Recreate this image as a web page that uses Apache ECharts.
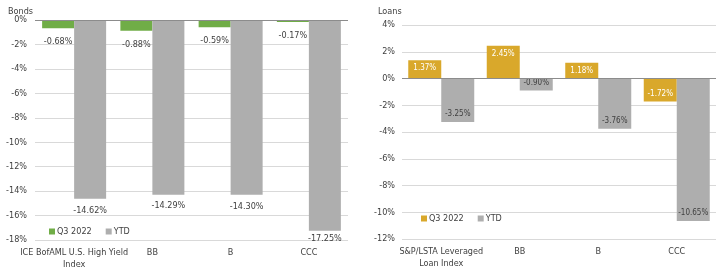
<!DOCTYPE html>
<html>
<head>
<meta charset="utf-8">
<script src="https://cdn.jsdelivr.net/npm/echarts@6/dist/echarts.min.js"></script>
<style>
  html, body { margin: 0; padding: 0; background: #fff; }
  #chart { width: 724px; height: 276px; }
</style>
</head>
<body>
<div id="chart"></div>
<script>
// bonds panel
const bondCategories = ['ICE BofAML U.S. High Yield\nIndex', 'BB', 'B', 'CCC'];
const bondQ3 = [-0.68, -0.88, -0.59, -0.17];
const bondYtd = [-14.62, -14.29, -14.30, -17.25];

// loans panel
const loanCategories = ['S&P/LSTA Leveraged\nLoan Index', 'BB', 'B', 'CCC'];
const loanQ3 = [1.37, 2.45, 1.18, -1.72];
const loanYtd = [-3.25, -0.90, -3.76, -10.65];

const FONT = "'Liberation Sans Narrow', 'DejaVu Sans Condensed', 'Arial Narrow', 'Liberation Sans', sans-serif";
const TEXT = '#404040';
const GREEN = '#70ad47';
const GOLD = '#d9a82b';
const GREY = '#aeaeae';

const legendNames = { bq3: 'Q3 2022', bytd: 'YTD', lq3: 'Q3 2022', lytd: 'YTD' };

function pct(v) {
  return v.toFixed(2) + '%';
}

// inside-end labels: top for positive bars, bottom for negative ones
function insideEnd(values) {
  return values.map((v) => ({
    value: v,
    label: { position: v >= 0 ? 'insideTop' : 'insideBottom' },
  }));
}

const zeroLine = {
  silent: true,
  symbol: 'none',
  label: { show: false },
  lineStyle: { color: '#8c8c8c', type: 'solid', width: 1 },
  data: [{ yAxis: 0 }],
};

function valueAxis(gridIndex, min, max) {
  return {
    type: 'value',
    gridIndex,
    min,
    max,
    interval: 2,
    axisLine: { show: false },
    axisTick: { show: false },
    axisLabel: {
      color: TEXT,
      fontFamily: FONT,
      fontSize: 9,
      margin: gridIndex === 0 ? 8 : 7,
      formatter: (v) => v + '%',
    },
    splitLine: { lineStyle: { color: '#d9d9d9', width: 1 } },
  };
}

function categoryAxis(gridIndex, data) {
  return {
    type: 'category',
    gridIndex,
    data,
    axisLine: { show: false, onZero: false },
    axisTick: { show: false },
    axisLabel: {
      color: TEXT,
      fontFamily: FONT,
      fontSize: 9,
      margin: 7,
      lineHeight: 12,
      interval: 0,
    },
  };
}

// keep the bonds labels from running past the bottom of the plot
function clampBottom(params) {
  const r = params.labelRect;
  const limit = 243;
  return r.y + r.height > limit ? { dy: limit - (r.y + r.height) } : {};
}

const chart = echarts.init(document.getElementById('chart'), null, { renderer: 'canvas' });

chart.setOption({
  animation: false,
  backgroundColor: '#fff',
  textStyle: { fontFamily: FONT },
  title: [
    { text: 'Bonds', left: 3, top: 2, textStyle: { fontSize: 9, fontWeight: 'normal', color: TEXT, fontFamily: FONT } },
    { text: 'Loans', left: 373, top: 2, textStyle: { fontSize: 9, fontWeight: 'normal', color: TEXT, fontFamily: FONT } },
  ],
  legend: [
    {
      data: ['bq3', 'bytd'],
      left: 44,
      top: 222,
      itemWidth: 6,
      itemHeight: 6,
      itemGap: 14,
      icon: 'rect',
      formatter: (n) => legendNames[n],
      textStyle: { color: TEXT, fontSize: 9, fontFamily: FONT, padding: [0, 0, 0, -3] },
    },
    {
      data: ['lq3', 'lytd'],
      left: 416,
      top: 209,
      itemWidth: 6,
      itemHeight: 6,
      itemGap: 14,
      icon: 'rect',
      formatter: (n) => legendNames[n],
      textStyle: { color: TEXT, fontSize: 9, fontFamily: FONT, padding: [0, 0, 0, -3] },
    },
  ],
  grid: [
    { left: 35, top: 20, width: 313, height: 220 },
    { left: 402, top: 25, width: 314, height: 214 },
  ],
  xAxis: [categoryAxis(0, bondCategories), categoryAxis(1, loanCategories)],
  yAxis: [valueAxis(0, -18, 0), valueAxis(1, -12, 4)],
  series: [
    {
      name: 'bq3',
      type: 'bar',
      xAxisIndex: 0,
      yAxisIndex: 0,
      barWidth: 32,
      barGap: '0%',
      itemStyle: { color: GREEN },
      label: { show: true, position: 'bottom', distance: 9, color: TEXT, fontSize: 9, fontFamily: FONT, formatter: (p) => pct(p.value) },
      data: bondQ3,
      markLine: zeroLine,
    },
    {
      name: 'bytd',
      type: 'bar',
      xAxisIndex: 0,
      yAxisIndex: 0,
      barWidth: 32,
      barGap: '0%',
      itemStyle: { color: GREY },
      label: { show: true, position: 'bottom', distance: 7, color: TEXT, fontSize: 9, fontFamily: FONT, formatter: (p) => pct(p.value) },
      labelLayout: clampBottom,
      data: bondYtd,
    },
    {
      name: 'lq3',
      type: 'bar',
      xAxisIndex: 1,
      yAxisIndex: 1,
      barWidth: 33,
      barGap: '0%',
      itemStyle: { color: GOLD },
      label: { show: true, distance: 4, color: '#ffffff', fontSize: 8, fontFamily: FONT, formatter: (p) => pct(p.value) },
      data: insideEnd(loanQ3),
      markLine: zeroLine,
    },
    {
      name: 'lytd',
      type: 'bar',
      xAxisIndex: 1,
      yAxisIndex: 1,
      barWidth: 33,
      barGap: '0%',
      itemStyle: { color: GREY },
      label: { show: true, distance: 4, color: TEXT, fontSize: 8, fontFamily: FONT, formatter: (p) => pct(p.value) },
      data: insideEnd(loanYtd),
    },
  ],
});
</script>
</body>
</html>
